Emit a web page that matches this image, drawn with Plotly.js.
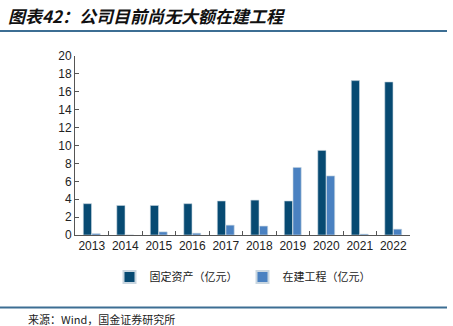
<!DOCTYPE html>
<html>
<head>
<meta charset="utf-8">
<script src="https://cdn.plot.ly/plotly-3.0.1.min.js"></script>
<style>html,body{margin:0;padding:0;background:#fff;}#chart{width:453px;height:326px;}</style>
</head>
<body>
<div id="chart"></div>
<script>
const years = ['2013','2014','2015','2016','2017','2018','2019','2020','2021','2022'];
const fixedAssets = [3.5, 3.3, 3.3, 3.5, 3.8, 3.9, 3.8, 9.45, 17.25, 17.1];
const construction = [0.15, 0, 0.35, 0.2, 1.1, 1.0, 7.55, 6.6, 0.1, 0.65];
const seriesNames = ['固定资产（亿元）', '在建工程（亿元）'];
const titleText = '图表42：公司目前尚无大额在建工程';
const sourceText = '来源：Wind，国金证券研究所';

const cjk = '"Noto Sans CJK SC", "Liberation Sans", Arial, sans-serif';
const traces = [
  {type:'bar', x: years, y: fixedAssets, name: seriesNames[0],
   marker:{color:'#074a72', line:{color:'#c9d6e0', width:0.6}}},
  {type:'bar', x: years, y: construction, name: seriesNames[1],
   marker:{color:'#4a81c1', line:{color:'#c9d6e0', width:0.6}}}
];
const layout = {
  width:453, height:326,
  margin:{l:75, r:43, t:56, b:91},
  paper_bgcolor:'#fff', plot_bgcolor:'#fff',
  barmode:'group', bargap:0.48, bargroupgap:0.06,
  title:{text:'<b><i>'+titleText+'</i></b>', x:8/453, xanchor:'left', xref:'container',
         y:1-17/326, yanchor:'middle', yref:'container',
         font:{family:cjk, size:17, color:'#111'}},
  font:{family:'"Liberation Sans", Arial, sans-serif', size:12, color:'#222'},
  xaxis:{type:'category', showline:true, linecolor:'#555', linewidth:1, tickangle:0,
         ticks:'inside', tickson:'boundaries', ticklen:4, tickcolor:'#555',
         tickfont:{size:12, color:'#222'}, showgrid:false, zeroline:false},
  yaxis:{range:[0,20], dtick:2, showline:true, linecolor:'#555', linewidth:1,
         ticks:'inside', ticklen:4, tickcolor:'#555', showgrid:false, zeroline:false,
         tickfont:{size:12, color:'#222'}},
  showlegend:true,
  legend:{orientation:'h', x:0.5, xanchor:'center', y:-0.235, yanchor:'middle',
          font:{family:cjk, size:11, color:'#222'}, itemwidth:30, tracegroupgap:0,
          itemsizing:'constant'},
  shapes:[
    {type:'line', xref:'paper', yref:'paper', x0:-75/335, x1:(447-75)/335,
     y0:(235-31)/179, y1:(235-31)/179, line:{color:'#3c6e93', width:2}},
    {type:'line', xref:'paper', yref:'paper', x0:-75/335, x1:(447-75)/335,
     y0:(235-307.5)/179, y1:(235-307.5)/179, line:{color:'#3c6e93', width:2}}
  ],
  annotations:[
    {text:sourceText, xref:'paper', yref:'paper', x:(26-75)/335, xanchor:'left',
     y:(235-319)/179, yanchor:'middle', showarrow:false,
     font:{family:cjk, size:11, color:'#222'}}
  ]
};
Plotly.newPlot('chart', traces, layout, {displayModeBar:false, staticPlot:true});
</script>
</body>
</html>
